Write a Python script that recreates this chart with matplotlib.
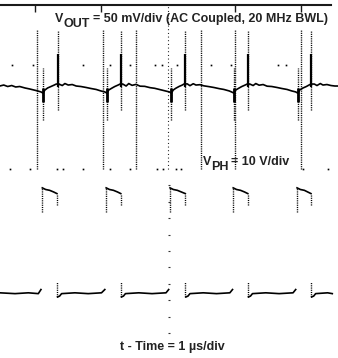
import numpy as np
import matplotlib.pyplot as plt

plt.rcParams['font.family'] = ['Liberation Sans', 'DejaVu Sans']

# scope settings (screen is in divisions, 1 us/div horizontally)
vout_scale = 50.0   # mV/div
vout_pos = 1.0      # div, CH1 ground position
ph_scale = 10.0     # V/div
ph_pos = -1.52      # div, CH2 ground position

# PH switching edges, us
t_rise = [-1.89, -0.93, 0.03, 0.98, 1.94]
t_fall = [-1.67, -0.71, 0.26, 1.20, 2.15]

# VOUT ripple (AC coupled), us / mV
vout_t = [-2.53, -2.47, -2.41, -2.35, -2.29, -2.23, -2.15, -2.08, -2.02, -1.96, -1.91, -1.88,
          -1.85, -1.81, -1.76, -1.71, -1.68,
          -1.64, -1.59, -1.55, -1.50, -1.44, -1.38, -1.31, -1.23, -1.16, -1.08, -1.01, -0.95, -0.92,
          -0.89, -0.84, -0.80, -0.75, -0.72,
          -0.68, -0.63, -0.59, -0.54, -0.48, -0.42, -0.35, -0.27, -0.20, -0.12, -0.05, 0.02, 0.05,
          0.08, 0.12, 0.17, 0.21, 0.24,
          0.29, 0.33, 0.38, 0.42, 0.48, 0.54, 0.62, 0.69, 0.77, 0.84, 0.92, 0.96, 0.99,
          1.02, 1.07, 1.11, 1.16, 1.19,
          1.23, 1.28, 1.32, 1.37, 1.43, 1.49, 1.56, 1.64, 1.71, 1.79, 1.86, 1.92, 1.95,
          1.98, 2.03, 2.08, 2.12, 2.15,
          2.20, 2.24, 2.29, 2.33, 2.39, 2.45, 2.51, 2.56]
vout_mv = [0.6, 1.2, 0.3, 0.9, 0.0, 0.3, -0.6, -1.2, -1.8, -2.4, -3.0, -3.7,
           -1.8, -0.6, 0.3, 1.2, 1.8,
           1.8, 0.9, 2.1, 1.2, 1.5, 0.6, 0.3, -0.3, -0.9, -1.5, -2.4, -3.0, -3.7,
           -1.8, -0.6, 0.3, 1.2, 1.8,
           1.8, 0.6, 2.1, 1.0, 1.6, 0.5, 0.4, -0.4, -0.8, -1.6, -2.3, -3.0, -3.7,
           -1.8, -0.7, 0.4, 1.1, 1.8,
           1.9, 0.8, 2.0, 1.2, 1.4, 0.7, 0.2, -0.3, -1.0, -1.5, -2.4, -3.1, -3.7,
           -1.8, -0.6, 0.3, 1.2, 1.8,
           1.8, 0.9, 2.1, 1.1, 1.5, 0.5, 0.3, -0.3, -0.9, -1.5, -2.4, -3.0, -3.7,
           -1.8, -0.6, 0.3, 1.2, 1.8,
           1.8, 0.9, 2.1, 1.2, 1.5, 0.9, 0.6, 0.6]

# switching spikes on VOUT, mV (solid part / dotted envelope)
neg_spike_t = [-1.88, -0.91, 0.04, 0.99, 1.95]
neg_solid = (-0.6, -9.0)
neg_env = (11.5, -20.0)
pos_spike_t = [-1.66, -0.70, 0.26, 1.20, 2.15]
pos_solid = (0.0, 20.0)
pos_env = (-14.0, 35.0)

# stray samples seen on screen
stray_t = [-2.35, -2.03, -1.28, -0.87, -0.57, -0.20, -0.09, 0.14, 0.65, 0.95, 1.65, 1.77]
stray_mv = [13.4] * len(stray_t)

# PH node, us / V (nan splits the plateaus)
nan = np.nan
ph_t = [-2.53, -2.30, -2.10, -1.95, -1.91, nan,
        -1.89, -1.84, -1.78, -1.72, -1.67, nan,
        -1.66, -1.63, -1.60, -1.40, -1.20, -1.00, -0.95, nan,
        -0.93, -0.88, -0.82, -0.76, -0.71, nan,
        -0.70, -0.67, -0.64, -0.44, -0.24, -0.03, 0.01, nan,
        0.03, 0.08, 0.14, 0.20, 0.26, nan,
        0.27, 0.30, 0.33, 0.53, 0.73, 0.93, 0.97, nan,
        0.98, 1.03, 1.09, 1.15, 1.20, nan,
        1.21, 1.24, 1.27, 1.47, 1.67, 1.88, 1.92, nan,
        1.94, 1.99, 2.05, 2.10, 2.15, nan,
        2.16, 2.19, 2.22, 2.40, 2.47]
ph_v = [0.1, 0.0, 0.1, 0.0, 0.5, nan,
        12.9, 12.7, 12.6, 12.4, 12.2, nan,
        -0.4, -0.3, 0.0, 0.1, 0.0, 0.1, 0.5, nan,
        12.9, 12.7, 12.6, 12.4, 12.2, nan,
        -0.4, -0.3, 0.0, 0.1, 0.0, 0.1, 0.5, nan,
        12.9, 12.7, 12.6, 12.4, 12.2, nan,
        -0.4, -0.3, 0.0, 0.1, 0.0, 0.1, 0.5, nan,
        12.9, 12.7, 12.6, 12.4, 12.2, nan,
        -0.4, -0.3, 0.0, 0.1, 0.0, 0.1, 0.5, nan,
        12.9, 12.7, 12.6, 12.4, 12.2, nan,
        -0.4, -0.3, 0.0, 0.1, 0.0]

# screen graticule
grid_x = [-1.97, -0.98, -0.48, 0.50, 1.01, 2.00]
axis_dots_x = [-2.38, -2.08, -1.67, -1.58, -1.28, -0.87, -0.57, -0.17, -0.08, 0.12, 0.20, 2.03, 2.41]
minor_y = [-0.2, -0.4, -0.6, -0.8, -1.0, -1.2, -1.4, -1.6, -1.8, -2.0]

fig = plt.figure(figsize=(3.38, 3.58), dpi=100)
ax = fig.add_axes([0, 0, 1, 1])
ax.set_xlim(-2.526, 2.556)
ax.set_ylim(-2.305, 2.061)
ax.axis('off')

dot = (0, (0.8, 0.8))

# graticule
ax.plot([-2.526, 2.45], [2.0, 2.0], color='0.1', lw=1.5)
ax.vlines([-2, -1, 1, 2], 1.92, 2.0, color='0.1', lw=1)
ax.vlines(grid_x, 0.0, 1.70, color='k', lw=1, linestyles=[dot])
ax.vlines([0], 0.0, 2.0, color='k', lw=0.8, linestyles=[(0, (0.8, 2.5))])
ax.plot([0.015] * len(minor_y), minor_y, ls='none', marker='_', ms=2, color='0.2', mew=0.8)
ax.plot(axis_dots_x, [0.0] * len(axis_dots_x), ls='none', marker='s', ms=1.2, color='k', mew=0)

def ch1(mv):
    return vout_pos + np.asarray(mv, dtype=float) / vout_scale

def ch2(v):
    return ph_pos + np.asarray(v, dtype=float) / ph_scale

# VOUT
ax.plot(vout_t, ch1(vout_mv), color='k', lw=1.2)
ax.vlines(neg_spike_t, ch1(neg_env[1]), ch1(neg_env[0]), color='k', lw=1, linestyles=[dot])
ax.vlines(neg_spike_t, ch1(neg_solid[1]), ch1(neg_solid[0]), color='k', lw=2)
ax.vlines(pos_spike_t, ch1(pos_env[0]), ch1(pos_env[1]), color='k', lw=1, linestyles=[dot])
ax.vlines(pos_spike_t, ch1(pos_solid[0]), ch1(pos_solid[1]), color='k', lw=1.6)
ax.plot(stray_t, ch1(stray_mv), ls='none', marker='s', ms=1.2, color='k', mew=0)

# PH
ax.plot(ph_t, ch2(ph_v), color='k', lw=1.2)
ax.vlines(t_rise, ch2(10.0), ch2(12.9), color='k', lw=1, linestyles=[dot])
ax.vlines(t_fall, ch2(10.8), ch2(12.2), color='k', lw=1, linestyles=[dot])
ax.vlines(t_fall, ch2(-0.4), ch2(1.4), color='k', lw=1, linestyles=[dot])

W, H = 338.0, 358.0
def label(x, y, s, **kw):
    fig.text(x / W, 1 - y / H, s, fontsize=9, fontweight='bold', va='baseline', ha='left',
             color='#222222', **kw)

label(55, 22, 'V')
label(63, 27, 'OUT')
label(93, 22, '= 50 mV/div (AC Coupled, 20 MHz BWL)')
label(203, 165, 'V')
label(211, 170, 'PH')
label(231, 165, '= 10 V/div')
label(120, 350, 't - Time = 1 \u00b5s/div')

fig.savefig('out.png', dpi=100, facecolor='white')
